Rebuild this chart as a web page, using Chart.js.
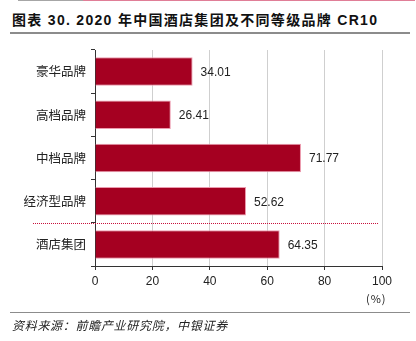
<!DOCTYPE html>
<html>
<head>
<meta charset="utf-8">
<script src="https://cdn.jsdelivr.net/npm/chart.js@4/dist/chart.umd.min.js"></script>
<style>
  html, body { margin:0; padding:0; background:#fff; }
  body { width:416px; height:341px; position:relative; overflow:hidden; font-family:"Liberation Sans","Noto Sans CJK SC",sans-serif; }
  #wrap { position:absolute; left:0; top:0; width:416px; height:341px; }
  .abs { position:absolute; }
</style>
</head>
<body>
<div class="abs" style="left:18px;top:0;width:65px;height:1px;background:#a6a6a6"></div>
<div class="abs" style="left:83px;top:0;width:332px;height:1px;background:#e07e97"></div>
<div class="abs" id="title" style="left:12px;top:9px;font-size:14px;font-weight:bold;color:#111;white-space:nowrap;letter-spacing:1.3px;font-family:'Liberation Sans','Noto Sans CJK SC',sans-serif;">图表 30. 2020 年中国酒店集团及不同等级品牌 CR10</div>
<div class="abs" style="left:10px;top:32px;width:400px;height:2px;background:#8c8c8c"></div>
<div id="wrap"><canvas id="c" width="416" height="341"></canvas></div>
<div class="abs" style="left:366px;top:290px;font-size:11px;color:#222;letter-spacing:1px;font-family:'Noto Sans CJK SC',sans-serif;">(%)</div>
<div class="abs" style="left:10px;top:312px;width:400px;height:1px;background:#8c8c8c"></div>
<div class="abs" style="left:12px;top:316px;font-size:12px;font-style:italic;color:#222;letter-spacing:0.7px;white-space:nowrap;font-family:'Noto Sans CJK SC',sans-serif;">资料来源：前瞻产业研究院，中银证券</div>
<script>
const categories = ["豪华品牌", "高档品牌", "中档品牌", "经济型品牌", "酒店集团"];
const cr10Values = [34.01, 26.41, 71.77, 52.62, 64.35];
const xTicks = [0, 20, 40, 60, 80, 100];

const valueLabels = {
  id: 'valueLabels',
  afterDatasetsDraw(chart) {
    const ctx = chart.ctx;
    const meta = chart.getDatasetMeta(0);
    ctx.save();
    ctx.font = '12px "Liberation Sans", Arial, sans-serif';
    ctx.fillStyle = '#222';
    ctx.textAlign = 'left';
    ctx.textBaseline = 'middle';
    meta.data.forEach((bar, i) => {
      ctx.fillText(cr10Values[i].toFixed(2), bar.x + 8, bar.y + 1);
    });
    ctx.restore();
  }
};

const separator = {
  id: 'separator',
  afterDatasetsDraw(chart) {
    const ctx = chart.ctx;
    const y = Math.round(chart.scales.y.getPixelForValue(3.5));
    const xEnd = chart.scales.x.getPixelForValue(100) - 3;
    ctx.save();
    ctx.fillStyle = '#c8103c';
    for (let x = 33; x < xEnd; x += 2) {
      ctx.fillRect(x, y, 1, 1);
    }
    ctx.restore();
  }
};

new Chart(document.getElementById('c'), {
  type: 'bar',
  data: {
    labels: categories,
    datasets: [{
      data: cr10Values,
      backgroundColor: '#a50021',
      borderColor: '#ec9aae',
      borderWidth: 1,
      barPercentage: 0.66,
      categoryPercentage: 1
    }]
  },
  options: {
    indexAxis: 'y',
    responsive: false,
    animation: false,
    devicePixelRatio: 1,
    layout: { padding: { top: 50, right: 34, left: 0, bottom: 0 } },
    plugins: { legend: { display: false }, tooltip: { enabled: false } },
    scales: {
      x: {
        min: 0, max: 100,
        afterBuildTicks(axis) { axis.ticks = xTicks.map(v => ({ value: v })); },
        afterFit(axis) { axis.height = 75; },
        grid: { color: '#cfcfcf', tickColor: '#333', tickLength: 4, lineWidth: 1 },
        border: { color: '#333', width: 1 },
        ticks: { color: '#222', padding: 4, font: { size: 12, family: '"Liberation Sans", Arial, sans-serif' } }
      },
      y: {
        afterFit(axis) { axis.width = 95; },
        grid: { drawOnChartArea: false, tickColor: '#333', tickLength: 4, offset: true },
        border: { color: '#333', width: 1 },
        ticks: { color: '#222', padding: 5, font: { size: 12.5, family: '"Noto Sans CJK SC", sans-serif' } }
      }
    }
  },
  plugins: [valueLabels, separator]
});
</script>
</body>
</html>
